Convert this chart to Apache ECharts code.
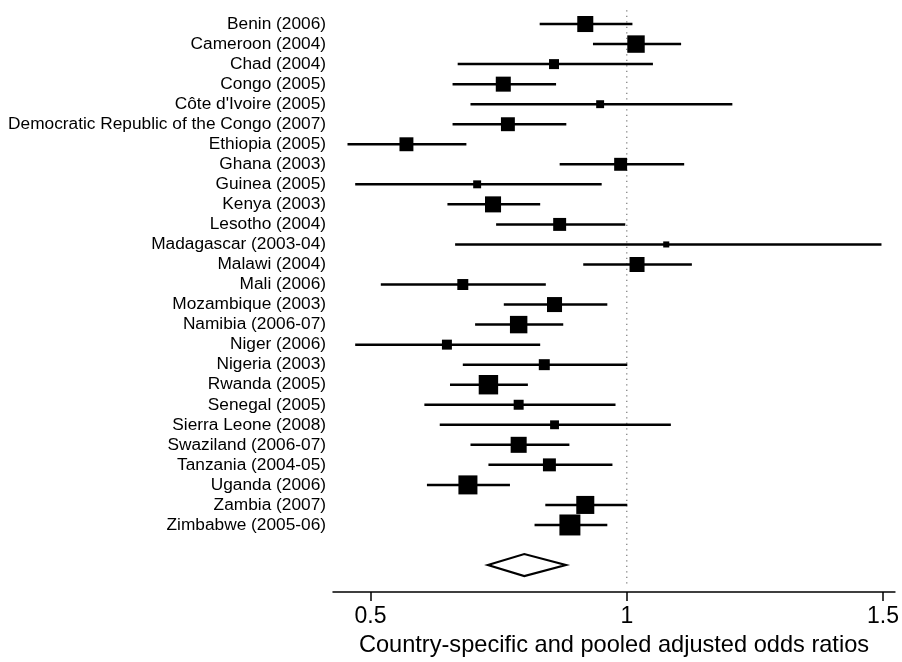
<!DOCTYPE html>
<html>
<head>
<meta charset="utf-8">
<script src="https://cdn.jsdelivr.net/npm/echarts@6/dist/echarts.min.js"></script>
<style>
html,body{margin:0;padding:0;background:#fff;}
#chart{width:902px;height:662px;}
</style>
</head>
<body>
<div id="chart"></div>
<script>
const countries = [
  "Benin (2006)", "Cameroon (2004)", "Chad (2004)", "Congo (2005)", "Côte d'Ivoire (2005)",
  "Democratic Republic of the Congo (2007)", "Ethiopia (2005)", "Ghana (2003)", "Guinea (2005)",
  "Kenya (2003)", "Lesotho (2004)", "Madagascar (2003-04)", "Malawi (2004)", "Mali (2006)",
  "Mozambique (2003)", "Namibia (2006-07)", "Niger (2006)", "Nigeria (2003)", "Rwanda (2005)",
  "Senegal (2005)", "Sierra Leone (2008)", "Swaziland (2006-07)", "Tanzania (2004-05)",
  "Uganda (2006)", "Zambia (2007)", "Zimbabwe (2005-06)"
];
const oddsRatios = [0.919, 1.018, 0.858, 0.759, 0.948, 0.768, 0.570, 0.988, 0.708, 0.739, 0.869, 1.077, 1.020,
  0.680, 0.859, 0.789, 0.649, 0.839, 0.730, 0.789, 0.859, 0.789, 0.849, 0.690, 0.919, 0.889];
const ciLower = [0.830, 0.934, 0.670, 0.660, 0.695, 0.660, 0.455, 0.869, 0.470, 0.650, 0.745, 0.665, 0.915,
  0.520, 0.760, 0.704, 0.470, 0.680, 0.655, 0.605, 0.635, 0.695, 0.730, 0.610, 0.841, 0.820];
const ciUpper = [1.011, 1.106, 1.051, 0.862, 1.206, 0.882, 0.687, 1.112, 0.951, 0.831, 0.997, 1.497, 1.127,
  0.842, 0.962, 0.876, 0.831, 1.001, 0.807, 0.978, 1.086, 0.888, 0.972, 0.772, 1.001, 0.962];
const weights = [4.9, 5.8, 1.9, 4.3, 1.2, 3.7, 3.7, 3.2, 1.2, 4.9, 3.2, 0.7, 4.3,
  2.3, 4.3, 5.8, 1.9, 2.3, 7.2, 1.9, 1.5, 4.9, 3.2, 6.9, 6.2, 8.4];
const pooledOR = 0.800;
const pooledLower = 0.729;
const pooledUpper = 0.881;
const xTickValues = [0.5, 1, 1.5];
const xTitle = "Country-specific and pooled adjusted odds ratios";

const pooledRow = countries.length + 1;
const FONT = "'Liberation Sans', Arial, Helvetica, sans-serif";

const chart = echarts.init(document.getElementById('chart'), null, {renderer: 'canvas'});

const ciData = countries.map((c, i) => [ciLower[i], ciUpper[i], i]);
const pointData = countries.map((c, i) => [oddsRatios[i], i, weights[i]]);

const option = {
  animation: false,
  backgroundColor: '#fff',
  grid: {left: 333, right: 5, top: 4, bottom: 64, containLabel: false},
  xAxis: {
    type: 'value',
    position: 'bottom',
    min: 0.4267,
    max: 1.5233,
    axisLine: {show: true, onZero: false, lineStyle: {color: '#000', width: 1.5}},
    axisTick: {show: true, length: 9, lineStyle: {color: '#000', width: 1.5}, customValues: xTickValues},
    axisLabel: {color: '#000', fontSize: 23, fontFamily: FONT, margin: 13, customValues: xTickValues,
      formatter: v => String(v)},
    splitLine: {show: false},
    name: xTitle,
    nameLocation: 'middle',
    nameGap: 38,
    nameTextStyle: {color: '#000', fontSize: 23.6, fontFamily: FONT}
  },
  yAxis: {
    type: 'value',
    inverse: true,
    min: -1,
    max: 28.35,
    interval: 1,
    axisLine: {show: false},
    axisTick: {show: false},
    splitLine: {show: false},
    axisLabel: {
      color: '#000', fontSize: 17.3, fontFamily: FONT, margin: 7,
      padding: [4, 0, 0, 0],
      showMinLabel: true, showMaxLabel: false,
      formatter: v => (Number.isInteger(v) && v >= 0 && v < countries.length) ? countries[v] : ''
    }
  },
  series: [
    {
      type: 'line',
      data: [[1, -0.69], [1, 28.1]],
      symbol: 'none',
      lineStyle: {color: '#777', width: 1.2, type: [1.2, 4.3]},
      silent: true,
      z: 1
    },
    {
      type: 'custom',
      data: ciData,
      encode: {x: [0, 1], y: 2},
      renderItem: function (params, api) {
        const p1 = api.coord([api.value(0), api.value(2)]);
        const p2 = api.coord([api.value(1), api.value(2)]);
        return {
          type: 'line',
          shape: {x1: p1[0], y1: p1[1], x2: p2[0], y2: p2[1]},
          style: {stroke: '#000', lineWidth: 2.5}
        };
      },
      z: 2
    },
    {
      type: 'scatter',
      data: pointData,
      symbol: 'rect',
      symbolSize: v => 7.24 * Math.sqrt(v[2]),
      itemStyle: {color: '#000', opacity: 1},
      z: 3
    },
    {
      type: 'custom',
      data: [[pooledOR, pooledLower, pooledUpper, pooledRow]],
      encode: {x: [0, 1, 2], y: 3},
      renderItem: function (params, api) {
        const r = api.value(3);
        const pts = [
          api.coord([api.value(1), r]),
          api.coord([api.value(0), r - 0.55]),
          api.coord([api.value(2), r]),
          api.coord([api.value(0), r + 0.55])
        ];
        return {
          type: 'polygon',
          shape: {points: pts},
          style: {fill: '#fff', stroke: '#000', lineWidth: 2.2}
        };
      },
      z: 3
    }
  ]
};
chart.setOption(option);
</script>
</body>
</html>
